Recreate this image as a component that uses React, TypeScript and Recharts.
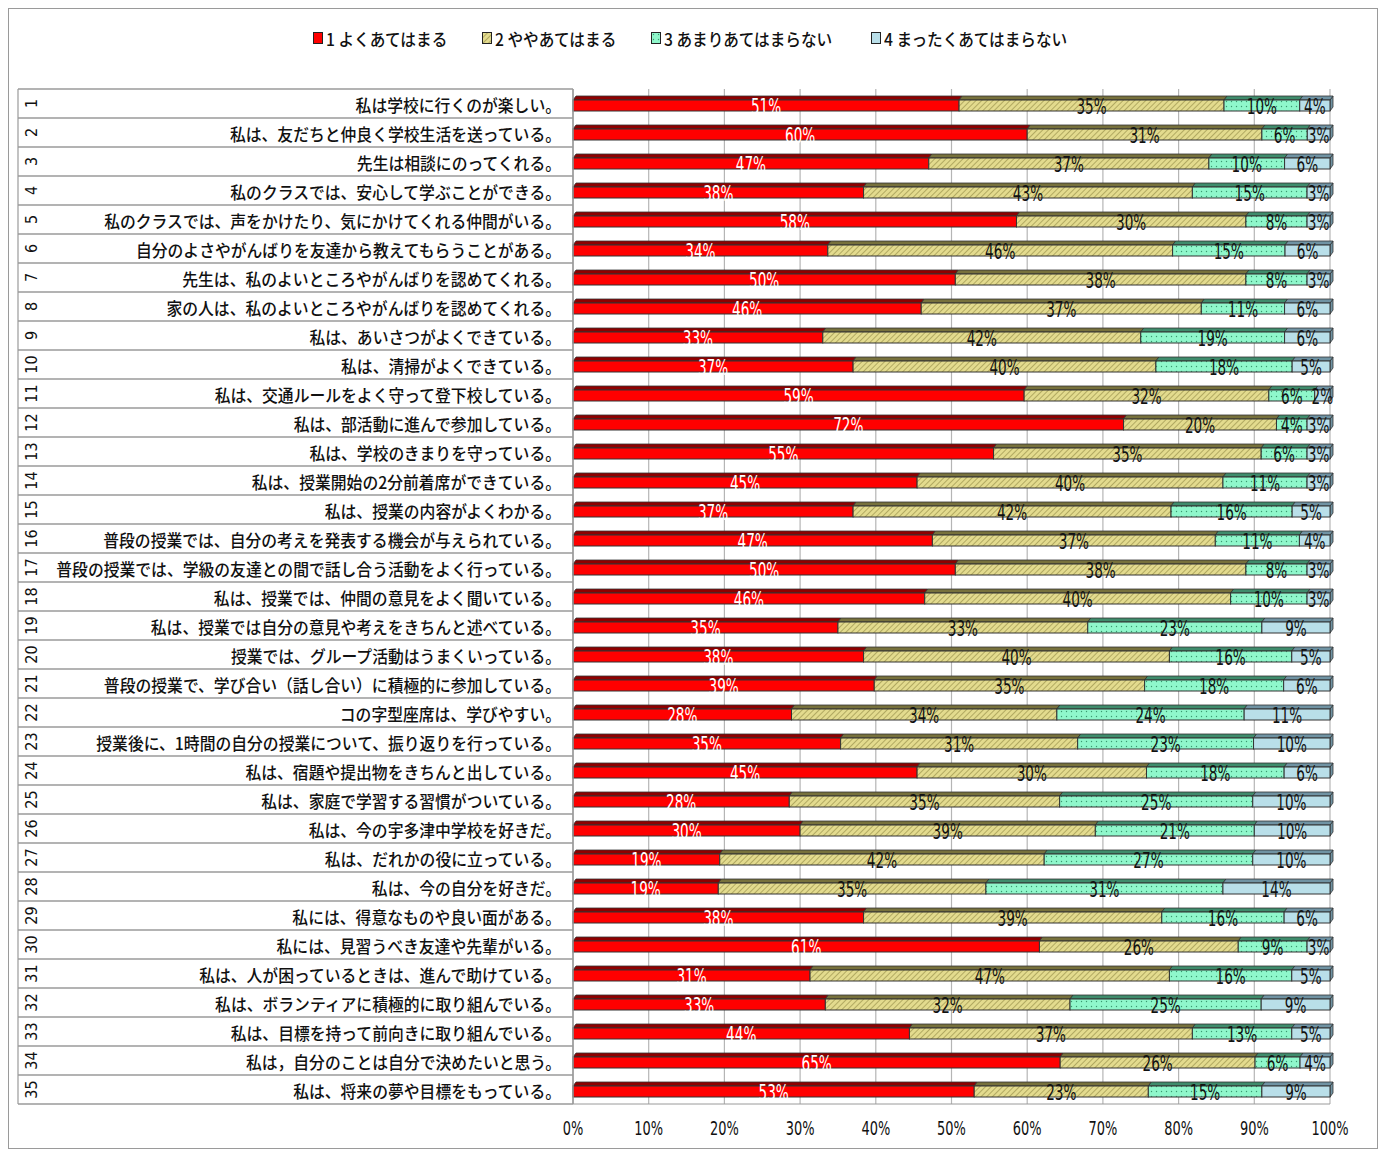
import React from 'react';
import { BarChart, Bar, XAxis, YAxis, CartesianGrid, Legend, LabelList } from 'recharts';

const questions = [
  '私は学校に行くのが楽しい。',
  '私は、友だちと仲良く学校生活を送っている。',
  '先生は相談にのってくれる。',
  '私のクラスでは、安心して学ぶことができる。',
  '私のクラスでは、声をかけたり、気にかけてくれる仲間がいる。',
  '自分のよさやがんばりを友達から教えてもらうことがある。',
  '先生は、私のよいところやがんばりを認めてくれる。',
  '家の人は、私のよいところやがんばりを認めてくれる。',
  '私は、あいさつがよくできている。',
  '私は、清掃がよくできている。',
  '私は、交通ルールをよく守って登下校している。',
  '私は、部活動に進んで参加している。',
  '私は、学校のきまりを守っている。',
  '私は、授業開始の2分前着席ができている。',
  '私は、授業の内容がよくわかる。',
  '普段の授業では、自分の考えを発表する機会が与えられている。',
  '普段の授業では、学級の友達との間で話し合う活動をよく行っている。',
  '私は、授業では、仲間の意見をよく聞いている。',
  '私は、授業では自分の意見や考えをきちんと述べている。',
  '授業では、グループ活動はうまくいっている。',
  '普段の授業で、学び合い（話し合い）に積極的に参加している。',
  'コの字型座席は、学びやすい。',
  '授業後に、1時間の自分の授業について、振り返りを行っている。',
  '私は、宿題や提出物をきちんと出している。',
  '私は、家庭で学習する習慣がついている。',
  '私は、今の宇多津中学校を好きだ。',
  '私は、だれかの役に立っている。',
  '私は、今の自分を好きだ。',
  '私には、得意なものや良い面がある。',
  '私には、見習うべき友達や先輩がいる。',
  '私は、人が困っているときは、進んで助けている。',
  '私は、ボランティアに積極的に取り組んでいる。',
  '私は、目標を持って前向きに取り組んでいる。',
  '私は，自分のことは自分で決めたいと思う。',
  '私は、将来の夢や目標をもっている。',
];

const seriesNames = ['1 よくあてはまる', '2 ややあてはまる', '3 あまりあてはまらない', '4 まったくあてはまらない'];

const s1 = [51, 60, 47, 38, 58, 34, 50, 46, 33, 37, 59, 72, 55, 45, 37, 47, 50, 46, 35, 38, 39, 28, 35, 45, 28, 30, 19, 19, 38, 61, 31, 33, 44, 65, 53];
const s2 = [35, 31, 37, 43, 30, 46, 38, 37, 42, 40, 32, 20, 35, 40, 42, 37, 38, 40, 33, 40, 35, 34, 31, 30, 35, 39, 42, 35, 39, 26, 47, 32, 37, 26, 23];
const s3 = [10, 6, 10, 15, 8, 15, 8, 11, 19, 18, 6, 4, 6, 11, 16, 11, 8, 10, 23, 16, 18, 24, 23, 18, 25, 21, 27, 31, 16, 9, 16, 25, 13, 6, 15];
const s4 = [4, 3, 6, 3, 3, 6, 3, 6, 6, 5, 2, 3, 3, 3, 5, 4, 3, 3, 9, 5, 6, 11, 10, 6, 10, 10, 10, 14, 6, 3, 5, 9, 5, 4, 9];

const xTicks = [0, 0.1, 0.2, 0.3, 0.4, 0.5, 0.6, 0.7, 0.8, 0.9, 1];

const data = questions.map((q, i) => ({ no: String(i + 1), q, s1: s1[i], s2: s2[i], s3: s3[i], s4: s4[i] }));

const series = [
  { key: 's1', vals: s1, fill: '#ff0000', top: '#8e0000', label: '#ffffff' },
  { key: 's2', vals: s2, fill: 'url(#hatch)', top: '#77713c', label: '#111111' },
  { key: 's3', vals: s3, fill: 'url(#dots)', top: '#3f8c6c', label: '#111111' },
  { key: 's4', vals: s4, fill: '#b9dfe9', top: '#7093a3', label: '#111111' },
];

const CJK = "'Noto Sans CJK JP', 'Noto Sans', sans-serif";
const NARROW = "'Liberation Sans Narrow', 'DejaVu Sans Condensed', 'DejaVu Sans', sans-serif";
const ROW_H = 29;
const D = 4;

// bar segment with a darker top face and a small side face (fake 3D)
const Segment = (props: any) => {
  const { x, y, width, height, fill, top } = props;
  if (!width || width <= 0) return null;
  return (
    <g>
      <polygon
        points={`${x + width},${y + D} ${x + width + 3},${y} ${x + width + 3},${y + height - D} ${x + width},${y + height}`}
        fill={top}
        stroke="#333"
        strokeWidth={0.8}
      />
      <polygon
        points={`${x},${y + D} ${x + 3},${y} ${x + width + 3},${y} ${x + width},${y + D}`}
        fill={top}
        stroke="#333"
        strokeWidth={0.8}
      />
      <rect x={x} y={y + D} width={width} height={height - D} fill={fill} stroke="#333" strokeWidth={1} />
    </g>
  );
};

const RowTick = (props: any) => {
  const { y, payload } = props;
  const i = Number(payload.value) - 1;
  const left = 9;
  const right = 564;
  return (
    <g>
      {i === 0 && <line x1={left} x2={right} y1={y - ROW_H / 2} y2={y - ROW_H / 2} stroke="#9a9a9a" strokeWidth={1.6} />}
      <line x1={left} x2={right} y1={y + ROW_H / 2} y2={y + ROW_H / 2} stroke="#9a9a9a" strokeWidth={1.6} />
      <line x1={left} x2={left} y1={y - ROW_H / 2} y2={y + ROW_H / 2} stroke="#9a9a9a" strokeWidth={1.2} />
      <text
        x={22}
        y={y}
        transform={`rotate(-90, 22, ${y})`}
        textAnchor="middle"
        dominantBaseline="central"
        fontFamily={NARROW}
        fontSize={16}
        fill="#111"
      >
        {payload.value}
      </text>
      <text
        transform={`translate(552, ${y + 1}) scale(0.93, 1)`}
        textAnchor="end"
        dominantBaseline="central"
        fontFamily={CJK}
        fontSize={17}
        fontWeight={500}
        fill="#111"
      >
        {questions[i]}
      </text>
    </g>
  );
};

const XTick = (props: any) => {
  const { x, y, payload } = props;
  return (
    <text
      transform={`translate(${x}, ${y + 12}) scale(0.72, 1)`}
      textAnchor="middle"
      dominantBaseline="central"
      fontFamily={NARROW}
      fontSize={20}
      fill="#111"
    >
      {`${Math.round(payload.value * 100)}%`}
    </text>
  );
};

const makeLabel = (vals: number[], color: string) => (props: any) => {
  const { x, y, width, height, index } = props;
  if (index == null) return null;
  return (
    <text
      transform={`translate(${x + width / 2}, ${y + height / 2 + 3}) scale(0.72, 1)`}
      textAnchor="middle"
      dominantBaseline="central"
      fontFamily={NARROW}
      fontSize={21}
      fill={color}
    >
      {vals[index]}%
    </text>
  );
};

const LegendBox = () => (
  <div
    style={{
      height: 30,
      display: 'flex',
      justifyContent: 'center',
      alignItems: 'center',
      gap: 34,
      fontFamily: CJK,
      fontSize: 17,
      fontWeight: 500,
      color: '#111',
    }}
  >
    {series.map((s, i) => (
      <div key={s.key} style={{ display: 'flex', alignItems: 'center' }}>
        <svg width={10} height={12} style={{ marginRight: 3 }}>
          <rect x={0.5} y={0.5} width={9} height={11} fill={s.fill} stroke="#222" strokeWidth={1} />
        </svg>
        <span style={{ display: 'inline-block', transform: 'scaleX(0.92)', transformOrigin: 'left center', marginRight: -10 }}>
          {seriesNames[i]}
        </span>
      </div>
    ))}
  </div>
);

export default function App() {
  return (
    <div style={{ width: 1370, height: 1141, border: '1px solid #9a9a9a', boxSizing: 'border-box', background: '#fff' }}>
      <BarChart
        width={1368}
        height={1139}
        data={data}
        layout="vertical"
        stackOffset="expand"
        barSize={15}
        margin={{ top: 50, right: 47, bottom: 14, left: 9 }}
      >
        <defs>
          <pattern id="hatch" width="4" height="4" patternUnits="userSpaceOnUse" patternTransform="rotate(45)">
            <rect width="4" height="4" fill="#e3db8e" />
            <line x1="0" y1="0" x2="0" y2="4" stroke="#a49c55" strokeWidth="1.6" />
          </pattern>
          <pattern id="dots" width="5" height="5" patternUnits="userSpaceOnUse">
            <rect width="5" height="5" fill="#8ff7cb" />
            <circle cx="2.5" cy="2.5" r="0.7" fill="#3a9a70" />
          </pattern>
        </defs>
        <CartesianGrid horizontal={false} stroke="#b5b5b5" strokeWidth={1.2} />
        <XAxis
          type="number"
          domain={[0, 1]}
          ticks={xTicks}
          tick={<XTick />}
          tickLine={false}
          tickMargin={6}
          axisLine={{ stroke: '#9a9a9a' }}
          height={30}
        />
        <YAxis
          type="category"
          dataKey="no"
          width={555}
          interval={0}
          tick={<RowTick />}
          tickLine={false}
          axisLine={{ stroke: '#9a9a9a', strokeWidth: 1.5 }}
        />
        <Legend verticalAlign="top" content={<LegendBox />} wrapperStyle={{ top: 14, left: 0, width: 1368 }} />
        {series.map((s, i) => (
          <Bar
            key={s.key}
            dataKey={s.key}
            name={seriesNames[i]}
            stackId="a"
            fill={s.fill}
            isAnimationActive={false}
            shape={(p: any) => <Segment {...p} top={s.top} />}
          >
            <LabelList dataKey={s.key} content={makeLabel(s.vals, s.label)} />
          </Bar>
        ))}
      </BarChart>
    </div>
  );
}
